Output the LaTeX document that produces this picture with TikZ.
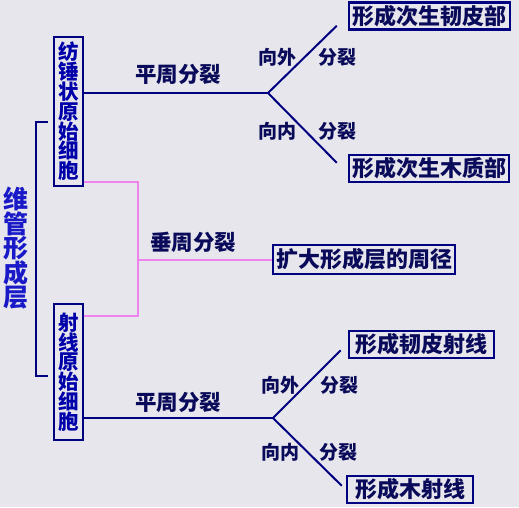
\documentclass[tikz,border=0pt]{standalone}
\usepackage{fontspec}
\newfontfamily\cjk{Noto Sans CJK SC}
\usetikzlibrary{calc}

\definecolor{navyline}{RGB}{0,0,128}
\definecolor{pinkline}{RGB}{238,130,238}
\definecolor{labeltext}{RGB}{10,10,90}
\definecolor{celltext}{RGB}{0,0,170}
\definecolor{bigtext}{RGB}{25,25,200}
\definecolor{paper}{RGB}{230,230,236}

\begin{document}
\begin{tikzpicture}[
    x=1pt, y=-1pt,
    conn/.style={draw=navyline, line width=2pt},
    pinkconn/.style={draw=pinkline, line width=2pt},
    cell/.style={
        draw=navyline,
        line width=2.5pt,
        inner sep=0pt,
        minimum width=29pt,
        align=center,
        text=celltext,
        font=\cjk\bfseries\fontsize{20.5}{19.8}\selectfont
    },
    result/.style={
        draw=navyline,
        line width=2.5pt,
        inner sep=0pt,
        minimum height=27pt,
        text=labeltext,
        font=\cjk\bfseries\fontsize{22}{24}\selectfont
    },
    tag/.style={
        inner sep=0pt,
        text=labeltext,
        font=\cjk\bfseries\fontsize{21.5}{23}\selectfont
    },
    sidetag/.style={
        inner sep=0pt,
        text=labeltext,
        font=\cjk\bfseries\fontsize{19}{21}\selectfont
    }
]

    % Background
    \fill[paper] (0,0) rectangle (519,507);
    \useasboundingbox (0,0) rectangle (519,507);

    % Nodes
    \node[inner sep=0pt, align=center, text=bigtext,
          font=\cjk\bfseries\fontsize{25}{23.6}\selectfont] (cambium) at (15.5,248)
    {维\\管\\形\\成\\层};

    \node[cell, minimum height=149pt] (fusiform) at (68.5,111.5)
    {纺\\锤\\状\\原\\始\\细\\胞};

    \node[cell, minimum height=136pt] (ray) at (68.5,372)
    {射\\线\\原\\始\\细\\胞};

    \node[result, minimum width=161pt] (phloem) at (429.5,16)
    {形成次生韧皮部};

    \node[result, minimum width=160pt] (xylem) at (429,168.5)
    {形成次生木质部};

    \node[result, minimum width=182pt, minimum height=29pt] (widen) at (364,259.5)
    {扩大形成层的周径};

    \node[result, minimum width=145pt] (phloemray) at (421.5,344.5)
    {形成韧皮射线};

    \node[result, minimum width=126pt] (xylemray) at (410,489.5)
    {形成木射线};

    % Branch points
    \coordinate (fork1) at (268,93);
    \coordinate (fork2) at (273,418);
    \coordinate (pinkmid) at (138,260);
    \coordinate (brtop) at (48,122);
    \coordinate (brbot) at (48,376);

    % Labels
    \node[tag] (peri1) at (178,74) {平周分裂};
    \node[tag] (anti) at (193,242) {垂周分裂};
    \node[tag] (peri2) at (178,402) {平周分裂};

    \node[sidetag] (out1) at (277,57) {向外};
    \node[sidetag] (div1) at (337,57) {分裂};
    \node[sidetag] (in1) at (277,131) {向内};
    \node[sidetag] (div2) at (337,131) {分裂};

    \node[sidetag] (out2) at (280,385) {向外};
    \node[sidetag] (div3) at (339,385) {分裂};
    \node[sidetag] (in2) at (280,452) {向内};
    \node[sidetag] (div4) at (338,452) {分裂};

    % Lines
    \draw[conn] (brtop) -- ++(-12,0) |- (brbot);

    \draw[conn] (fusiform.east |- fork1) -- (fork1);
    \draw[conn] (fork1) -- ([xshift=-11pt,yshift=5pt]phloem.south west);
    \draw[conn] (fork1) -- ([xshift=-11pt,yshift=-9pt]xylem.north west);

    \draw[conn] (ray.east |- fork2) -- (fork2);
    \draw[conn] (fork2) -- ([xshift=-7pt,yshift=9pt]phloemray.south west);
    \draw[conn] (fork2) -- ([xshift=-4pt,yshift=-11pt]xylemray.north west);

    \draw[pinkconn] ([yshift=5pt]fusiform.south east) -| (pinkmid)
        |- ([yshift=-13pt]ray.north east);
    \draw[pinkconn] (pinkmid) -- (widen.west |- pinkmid);

\end{tikzpicture}
\end{document}
